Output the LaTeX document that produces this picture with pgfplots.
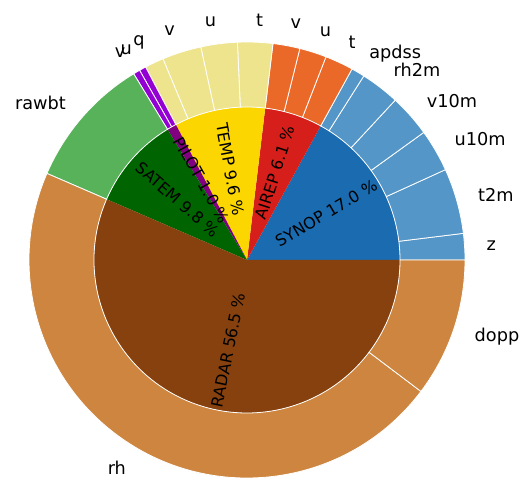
\documentclass[border=0pt]{standalone}
\usepackage{fontspec}
\setmainfont{DejaVu Sans}
\usepackage{pgfplots}
\usepackage{pgfplotstable}
\pgfplotsset{compat=1.18}

\definecolor{synop}{RGB}{26,107,175}
\definecolor{synopL}{RGB}{84,150,200}
\definecolor{airep}{RGB}{214,30,26}
\definecolor{airepL}{RGB}{234,104,40}
\definecolor{temp}{RGB}{252,214,0}
\definecolor{tempL}{RGB}{238,228,142}
\definecolor{pilot}{RGB}{128,0,128}
\definecolor{pilotL}{RGB}{148,0,211}
\definecolor{satem}{RGB}{0,100,0}
\definecolor{satemL}{RGB}{88,178,90}
\definecolor{radar}{RGB}{134,65,15}
\definecolor{radarL}{RGB}{205,133,63}

\pgfplotstableread{
name value col
SYNOP 17.0 synop
AIREP 6.1 airep
TEMP 9.6 temp
PILOT 1.0 pilot
SATEM 9.8 satem
RADAR 56.5 radar
}\innertab

\pgfplotstableread{
name value col
z 1.95 synopL
t2m 4.85 synopL
u10m 3.15 synopL
v10m 3.15 synopL
rh2m 2.9 synopL
apdss 1.0 synopL
t 2.1 airepL
u 2.0 airepL
v 2.0 airepL
t 2.6 tempL
u 2.7 tempL
v 2.9 tempL
q 1.4 tempL
u 0.5 pilotL
v 0.5 pilotL
rawbt 9.8 satemL
rh 46.2 radarL
dopp 10.3 radarL
}\outertab

\newcommand\prepare[2]{%
  \pgfplotstablegetrowsof{#1}%
  \pgfmathtruncatemacro\nrows{\pgfplotsretval-1}%
  \expandafter\xdef\csname #2N\endcsname{\nrows}%
  \gdef\cum{0}%
  \foreach \i in {0,...,\nrows}{%
    \pgfplotstablegetelem{\i}{value}\of{#1}\let\myv\pgfplotsretval
    \pgfmathsetmacro\myS{\cum*3.6}%
    \pgfmathsetmacro\newcum{\cum+\myv}%
    \pgfmathsetmacro\myE{\newcum*3.6}%
    \pgfmathsetmacro\myM{(\myS+\myE)/2}%
    \pgfmathsetmacro\myC{cos(\myM)}%
    \xdef\cum{\newcum}%
    \expandafter\xdef\csname #2S\i\endcsname{\myS}%
    \expandafter\xdef\csname #2E\i\endcsname{\myE}%
    \expandafter\xdef\csname #2M\i\endcsname{\myM}%
    \expandafter\xdef\csname #2V\i\endcsname{\myv}%
    \ifdim\myC pt>0pt
      \expandafter\xdef\csname #2A\i\endcsname{west}%
      \expandafter\xdef\csname #2R\i\endcsname{\myM}%
    \else
      \expandafter\xdef\csname #2A\i\endcsname{east}%
      \pgfmathsetmacro\myR{\myM-180}%
      \expandafter\xdef\csname #2R\i\endcsname{\myR}%
    \fi
    \pgfplotstablegetelem{\i}{name}\of{#1}%
    \expandafter\xdef\csname #2L\i\endcsname{\pgfplotsretval}%
    \pgfplotstablegetelem{\i}{col}\of{#1}%
    \expandafter\xdef\csname #2C\i\endcsname{\pgfplotsretval}%
  }%
}

\begin{document}
\begin{tikzpicture}
\prepare{\innertab}{i}
\prepare{\outertab}{o}
\begin{axis}[at={(0,0)}, anchor=south west, scale only axis,
  width=522pt, height=478pt,
  xmin=-247, xmax=275, ymin=-218, ymax=260,
  hide axis, clip=false]
% inner pie
\pgfplotsinvokeforeach{0,...,\iN}{%
  \edef\temp{\noexpand\fill[\csname iC#1\endcsname] (axis cs:0,0) -- ++(\csname iS#1\endcsname:153pt)
    arc[start angle=\csname iS#1\endcsname, end angle=\csname iE#1\endcsname, radius=153pt] -- cycle;}\temp
}
% outer ring
\pgfplotsinvokeforeach{0,...,\oN}{%
  \edef\temp{\noexpand\filldraw[fill=\csname oC#1\endcsname, draw=white, line width=0.8pt, line join=round]
    (axis cs:0,0) ++(\csname oS#1\endcsname:153pt)
    arc[start angle=\csname oS#1\endcsname, end angle=\csname oE#1\endcsname, radius=153pt]
    -- ++(\csname oE#1\endcsname:65pt)
    arc[start angle=\csname oE#1\endcsname, end angle=\csname oS#1\endcsname, radius=218pt] -- cycle;}\temp
}
% inner labels
\pgfplotsinvokeforeach{0,...,\iN}{%
  \edef\temp{\noexpand\path (axis cs:0,0) ++(\csname iM#1\endcsname:92pt)
    node[rotate=\csname iR#1\endcsname, inner sep=0pt, anchor=center, font=\noexpand\fontsize{16}{19}\noexpand\selectfont]
    {\csname iL#1\endcsname\space\csname iV#1\endcsname\space\noexpand\%};}\temp
}
% outer labels
\pgfplotsinvokeforeach{0,...,\oN}{%
  \edef\temp{\noexpand\path (axis cs:0,0) ++(\csname oM#1\endcsname:240pt)
    node[anchor=\csname oA#1\endcsname, inner sep=0pt, font=\noexpand\fontsize{17.7}{21}\noexpand\selectfont]
    {\csname oL#1\endcsname};}\temp
}
\end{axis}
\pgfresetboundingbox
\path (0,0) rectangle (522pt,478pt);
\end{tikzpicture}
\end{document}
